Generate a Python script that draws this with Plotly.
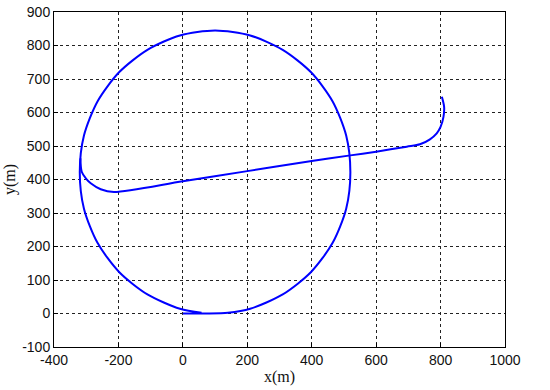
"""
Trajectory plot (x/y in metres) in a MATLAB-like style:
white background, boxed axes, black dotted grid, blue path.
"""

import plotly.graph_objects as go


# ── Data ────────────────────────────────────────────────────────────────────
# Circling path: short straight start along y=0, then one loop counter-clockwise
circle_x = [0, 70, 140, 209, 310, 398, 465, 507, 520, 507, 465, 398, 310,
            209, 100, -9, -110, -198, -265, -307, -320, -307, -265, -198,
            -110, -9, 58]
circle_y = [0, 0, 2, 14, 57, 124, 211, 313, 422, 531, 633, 720, 787,
            830, 845, 830, 787, 720, 633, 531, 422, 313, 211, 124,
            57, 14, 2]

# Departing path: leaves the loop on the left side and runs off to the right
depart_x = [-318, -314, -300, -286, -255, -214, 0, 200, 400, 520, 600,
            695, 736, 767, 788, 800, 809, 811, 804]
depart_y = [463, 423, 402, 389, 371, 363, 395, 425, 455, 472, 483,
            498, 505, 520, 538, 557, 587, 617, 647]

x_ticks = [-400, -200, 0, 200, 400, 600, 800, 1000]
x_tick_labels = ["-400", "-200", "0", "200", "400", "600", "800", "1000"]
y_ticks = [-100, 0, 100, 200, 300, 400, 500, 600, 700, 800, 900]
y_tick_labels = ["-100", "0", "100", "200", "300", "400", "500", "600",
                 "700", "800", "900"]

_LINE_COLOR = "#0000ff"
_GRID_COLOR = "#222222"
_TICK_FONT = dict(family="Liberation Sans, Arial", size=14, color="#111111")
_TITLE_FONT = dict(family="Liberation Serif, Times New Roman",
                   size=16, color="#111111")

fig = go.Figure()

for xs, ys in [(circle_x, circle_y), (depart_x, depart_y)]:
    fig.add_trace(go.Scatter(
        x=xs,
        y=ys,
        mode="lines",
        line=dict(color=_LINE_COLOR, width=2, shape="spline", smoothing=0.8),
        showlegend=False,
    ))

_axis_common = dict(
    showline=True,
    linecolor="black",
    linewidth=1,
    mirror=True,
    showgrid=True,
    gridcolor=_GRID_COLOR,
    gridwidth=1,
    griddash="dot",
    zeroline=False,
    ticks="inside",
    ticklen=4,
    tickcolor="black",
    tickfont=_TICK_FONT,
    automargin=False,
    ticklabeloverflow="allow",
)

fig.update_layout(
    width=550,
    height=390,
    paper_bgcolor="white",
    plot_bgcolor="white",
    margin=dict(l=54, r=45, t=12, b=43),
    xaxis=dict(
        range=[-400, 1000],
        tickvals=x_ticks,
        ticktext=x_tick_labels,
        title=dict(text="x(m)", standoff=4, font=_TITLE_FONT),
        **_axis_common,
    ),
    yaxis=dict(
        range=[-100, 900],
        tickvals=y_ticks,
        ticktext=y_tick_labels,
        title=dict(text="y(m)", standoff=2, font=_TITLE_FONT),
        **_axis_common,
    ),
)

# drop the default 8px body margin so the figure sits at the window corner
fig.write_html(
    "out.html",
    config={"displayModeBar": False},
    post_script="document.body.style.margin = '0';",
)
